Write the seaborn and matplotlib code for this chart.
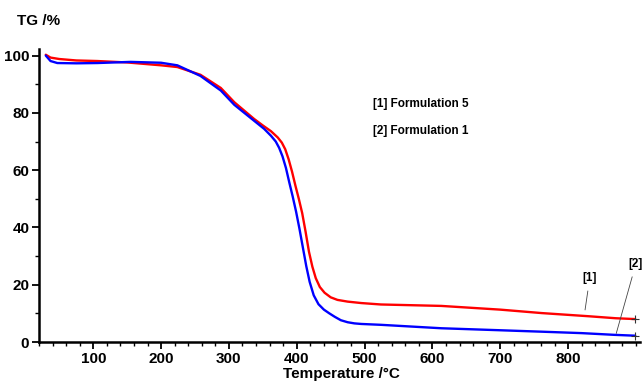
import numpy as np
import pandas as pd
import matplotlib
matplotlib.use("Agg")
import matplotlib.pyplot as plt
import seaborn as sns
from matplotlib.ticker import MultipleLocator, FixedLocator

# ---- data ----
temp_f5 = [30, 37, 50, 75, 106, 150, 200, 224, 258, 288, 308, 337, 350, 362, 372, 378, 383,
           388, 393, 398, 403, 408, 413, 418, 423, 428, 434, 441, 450, 460, 475, 495, 524,
           613, 700, 761, 830, 870, 899]
tg_f5 = [100.3, 99.3, 98.8, 98.3, 98.1, 97.6, 96.6, 96.0, 93.3, 88.7, 83.7, 77.9, 75.6, 73.6,
         71.4, 69.6, 67.3, 63.8, 59.5, 54.6, 50.0, 45.0, 38.5, 31.5, 26.3, 22.3, 19.2, 17.2,
         15.6, 14.7, 14.1, 13.6, 13.1, 12.6, 11.3, 10.1, 9.0, 8.3, 8.0]
temp_f1 = [30, 37, 47, 75, 106, 155, 200, 224, 258, 288, 308, 352, 362, 369, 374, 379, 384,
           389, 394, 399, 404, 409, 414, 419, 425, 432, 440, 448, 456, 465, 475, 485, 495,
           524, 613, 700, 761, 820, 868, 899]
tg_f1 = [100.0, 98.1, 97.4, 97.3, 97.4, 97.8, 97.5, 96.6, 92.9, 87.8, 82.8, 74.4, 72.0, 70.0,
         67.8, 64.8, 60.8, 55.7, 50.8, 45.5, 39.5, 33.0, 26.5, 21.0, 16.3, 13.2, 11.3, 10.0,
         8.8, 7.6, 6.9, 6.5, 6.3, 6.0, 4.8, 4.1, 3.6, 3.1, 2.5, 2.2]
series_names = ["[1] Formulation 5", "[2] Formulation 1"]
series_tags = ["[1]", "[2]"]
x_major = [100, 200, 300, 400, 500, 600, 700, 800]
y_major = [0, 20, 40, 60, 80, 100]

df = pd.concat([
    pd.DataFrame({"T": temp_f5, "TG": tg_f5, "s": series_names[0]}),
    pd.DataFrame({"T": temp_f1, "TG": tg_f1, "s": series_names[1]}),
], ignore_index=True)

sns.set_style("ticks")
plt.rcParams["font.family"] = ["Liberation Sans", "DejaVu Sans"]
plt.rcParams["font.weight"] = "bold"
plt.rcParams["text.color"] = "black"
plt.rcParams["axes.labelcolor"] = "black"
plt.rcParams["xtick.color"] = "black"
plt.rcParams["ytick.color"] = "black"

fig = plt.figure(figsize=(6.43, 3.83), dpi=100)
ax = fig.add_axes([39 / 643, 1 - 342 / 383, (640 - 39) / 643, (342 - 49) / 383])

sns.lineplot(data=df, x="T", y="TG", hue="s", palette=["#ff0000", "#0000ff"],
             linewidth=1.7, legend=False, ax=ax, sort=False, estimator=None)

# end-of-curve markers
ax.plot([temp_f5[-1]], [tg_f5[-1]], marker="+", color="#333333", ms=6, mew=0.8)
ax.plot([temp_f1[-1]], [tg_f1[-1]], marker="+", color="#333333", ms=6, mew=0.8)

ax.set_xlim(20, 906)
ax.set_ylim(0, 102.3)
ax.xaxis.set_major_locator(FixedLocator(x_major))
ax.xaxis.set_minor_locator(MultipleLocator(20))
ax.yaxis.set_major_locator(FixedLocator(y_major))
ax.yaxis.set_minor_locator(MultipleLocator(10))
ax.tick_params(axis="both", which="major", length=5, width=1.3, labelsize=11, pad=2,
               color="black", labelcolor="black")
ax.tick_params(axis="both", which="minor", length=3, width=1.0, color="black")
for lbl in ax.get_xticklabels() + ax.get_yticklabels():
    lbl.set_fontweight("bold")

for side in ["top", "right"]:
    ax.spines[side].set_visible(False)
for side in ["left", "bottom"]:
    ax.spines[side].set_linewidth(1.8)
    ax.spines[side].set_color("black")

ax.set_xlabel("")
ax.set_ylabel("")
fig.text(17 / 643, 1 - 21 / 383, "TG /%", fontsize=11, fontweight="bold", va="center",
         ha="left", color="black")
fig.text(341 / 643, 1 - 374 / 383, "Temperature /\u00b0C", fontsize=11, fontweight="bold",
         va="center", ha="center", color="black")

# legend text
ax.text(512, 83.2, series_names[0], fontsize=8.5, fontweight="bold", va="center", ha="left",
        color="black")
ax.text(512, 73.5, series_names[1], fontsize=8.5, fontweight="bold", va="center", ha="left",
        color="black")

# callouts
ax.annotate(series_tags[0], xy=(825, 11.2), xytext=(832, 22.5), fontsize=8.5, fontweight="bold",
            ha="center", va="center", annotation_clip=False, color="black",
            arrowprops=dict(arrowstyle="-", color="#444444", lw=0.6, shrinkA=3, shrinkB=0))
ax.annotate(series_tags[1], xy=(871, 3.0), xytext=(900, 27.4), fontsize=8.5, fontweight="bold",
            ha="center", va="center", annotation_clip=False, color="black",
            arrowprops=dict(arrowstyle="-", color="#444444", lw=0.6, shrinkA=3, shrinkB=0))

fig.savefig("out.png", dpi=100)
